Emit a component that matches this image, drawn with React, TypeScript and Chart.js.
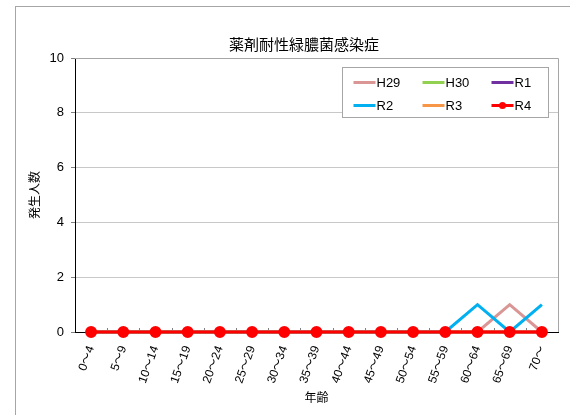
import React, { useEffect, useRef } from "react";
import { Chart, registerables } from "chart.js";

Chart.register(...registerables);

const chartTitle = "薬剤耐性緑膿菌感染症";
const yAxisTitle = "発生人数";
const xAxisTitle = "年齢";
const ageGroups = ["0～4", "5～9", "10～14", "15～19", "20～24", "25～29", "30～34", "35～39", "40～44", "45～49", "50～54", "55～59", "60～64", "65～69", "70～"];
const yTicks = [0, 2, 4, 6, 8, 10];

const seriesNames = ["H29", "H30", "R1", "R2", "R3", "R4"];
const h29 = [0, 0, 0, 0, 0, 0, 0, 0, 0, 0, 0, 0, 0, 1, 0];
const h30 = [0, 0, 0, 0, 0, 0, 0, 0, 0, 0, 0, 0, 0, 0, 0];
const r1 = [0, 0, 0, 0, 0, 0, 0, 0, 0, 0, 0, 0, 0, 0, 0];
const r2 = [0, 0, 0, 0, 0, 0, 0, 0, 0, 0, 0, 0, 1, 0, 1];
const r3 = [0, 0, 0, 0, 0, 0, 0, 0, 0, 0, 0, 0, 0, 0, 0];
const r4 = [0, 0, 0, 0, 0, 0, 0, 0, 0, 0, 0, 0, 0, 0, 0];
const seriesValues = [h29, h30, r1, r2, r3, r4];
const seriesColors = ["#D99694", "#92D050", "#7030A0", "#00B0F0", "#F79646", "#FF0000"];

const FONT = '"Liberation Sans", "Noto Sans CJK JP", sans-serif';

const framePlugin = {
  id: "frame",
  beforeDraw(chart: any) {
    const ctx = chart.ctx;
    ctx.save();
    ctx.strokeStyle = "#a6a6a6";
    ctx.lineWidth = 1;
    ctx.strokeRect(15.5, 6.5, 700, 600);
    ctx.restore();
  },
  beforeDatasetsDraw(chart: any) {
    const ctx = chart.ctx;
    const a = chart.chartArea;
    ctx.save();
    // plot border top/right
    ctx.strokeStyle = "#a6a6a6";
    ctx.lineWidth = 1;
    ctx.beginPath();
    ctx.moveTo(a.left, Math.round(a.top) + 0.5);
    ctx.lineTo(Math.round(a.right) + 0.5, Math.round(a.top) + 0.5);
    ctx.lineTo(Math.round(a.right) + 0.5, a.bottom);
    ctx.stroke();
    // inner x ticks at category boundaries
    ctx.strokeStyle = "#808080";
    const n = ageGroups.length;
    const step = a.width / n;
    ctx.beginPath();
    for (let i = 1; i < n; i++) {
      const px = Math.round(a.left + step * i) + 0.5;
      ctx.moveTo(px, a.bottom);
      ctx.lineTo(px, a.bottom - 4);
    }
    ctx.stroke();
    ctx.restore();
  },
  afterDraw(chart: any) {
    const ctx = chart.ctx;
    const a = chart.chartArea;
    ctx.save();
    // title
    ctx.fillStyle = "#000";
    ctx.font = '15px "Noto Sans CJK JP", sans-serif';
    ctx.textAlign = "center";
    ctx.textBaseline = "middle";
    ctx.fillText(chartTitle, 304, a.top - 14);
    // legend
    const bx = a.right - 215.5;
    const by = a.top + 9.5;
    const bw = 206;
    const bh = 50;
    ctx.fillStyle = "#fff";
    ctx.fillRect(bx, by, bw, bh);
    ctx.strokeStyle = "#a6a6a6";
    ctx.lineWidth = 1;
    ctx.strokeRect(bx, by, bw, bh);
    ctx.font = "13px " + FONT;
    ctx.textAlign = "left";
    seriesNames.forEach((name, i) => {
      const col = i % 3;
      const row = Math.floor(i / 3);
      const lx = bx + 11 + col * 69;
      const ly = by + 15 + row * 23;
      ctx.strokeStyle = seriesColors[i];
      ctx.lineWidth = 3;
      ctx.beginPath();
      ctx.moveTo(lx, ly);
      ctx.lineTo(lx + 22, ly);
      ctx.stroke();
      if (i === 5) {
        ctx.fillStyle = seriesColors[i];
        ctx.beginPath();
        ctx.arc(lx + 11, ly, 3.5, 0, Math.PI * 2);
        ctx.fill();
      }
      ctx.fillStyle = "#000";
      ctx.fillText(name, lx + 23, ly + 1);
    });
    ctx.restore();
  },
};

export default function App() {
  const ref = useRef<HTMLCanvasElement | null>(null);
  useEffect(() => {
    if (!ref.current) return;
    const datasets = seriesNames.map((name, i) => ({
      label: name,
      data: seriesValues[i],
      borderColor: seriesColors[i],
      backgroundColor: seriesColors[i],
      borderWidth: 3,
      pointRadius: i === 5 ? 4.5 : 0,
      pointHoverRadius: 0,
      tension: 0,
      clip: false,
      order: i === 5 ? 0 : 6 - i,
    }));
    const chart = new Chart(ref.current, {
      type: "line",
      data: { labels: ageGroups, datasets },
      plugins: [framePlugin],
      options: {
        responsive: false,
        animation: false,
        devicePixelRatio: 1,
        layout: { padding: { left: 15, right: 12, top: 58, bottom: 0 } },
        plugins: { legend: { display: false }, title: { display: false }, tooltip: { enabled: false } },
        scales: {
          x: {
            type: "category",
            offset: true,
            grid: { display: false },
            border: { display: true, color: "#000", width: 1 },
            ticks: { color: "#000", font: { family: FONT, size: 12 }, minRotation: 70, maxRotation: 70, padding: 4, autoSkip: false },
            title: { display: true, text: xAxisTitle, color: "#000", font: { family: '"Noto Sans CJK JP", sans-serif', size: 12 }, padding: { top: 0, bottom: 10 } },
            afterFit: (s: any) => { s.height = 83; },
          },
          y: {
            min: 0,
            max: 10,
            afterBuildTicks: (s: any) => { s.ticks = yTicks.map((v) => ({ value: v })); },
            grid: {
              color: (c: any) => (c.tick && c.tick.value === 10 ? "#a6a6a6" : "#c8c8c8"),
              tickColor: "#808080",
              tickLength: 4,
              drawTicks: true,
            },
            border: { display: true, color: "#000", width: 1 },
            ticks: { color: "#000", font: { family: FONT, size: 13 }, padding: 7 },
            title: { display: true, text: yAxisTitle, color: "#000", font: { family: '"Noto Sans CJK JP", sans-serif', size: 12 }, padding: { top: 12, bottom: 0 } },
            afterFit: (s: any) => { s.width = 60; },
          },
        },
      },
    } as any);
    return () => chart.destroy();
  }, []);
  return (
    <div style={{ position: "fixed", left: 0, top: 0, width: 570, height: 415, background: "#fff" }}>
      <canvas ref={ref} width={570} height={415} />
    </div>
  );
}
